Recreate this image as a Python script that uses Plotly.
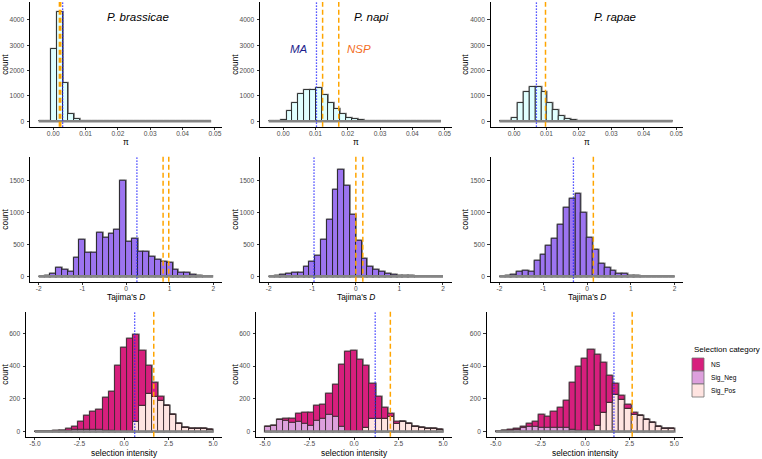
import plotly.graph_objects as go

W, H = 762, 459
FONT = "Liberation Sans"

SPECIES = ["P. brassicae", "P. napi", "P. rapae"]

# ---------- Row 1: nucleotide diversity (pi) ----------
PI_START, PI_WIDTH = -0.0045, 0.00184
PI_TICKS = [0.0, 0.01, 0.02, 0.03, 0.04, 0.05]
PI_TICKTEXT = ["0.00", "0.01", "0.02", "0.03", "0.04", "0.05"]
pi_brassicae = [0, 0, 2850, 4330, 1490, 300, 80, 20, 9, 5, 3, 2, 1, 1, 0,
                0, 0, 0, 0, 0, 0, 0, 0, 0, 0, 0, 0, 0, 0]
pi_napi = [0, 0, 50, 420, 730, 1070, 1220, 1250, 1300, 1020, 720, 470, 270, 130, 80,
           40, 15, 10, 5, 3, 2, 1, 0, 0, 0, 0, 0, 0, 0]
pi_rapae = [0, 0, 110, 740, 1170, 1340, 1350, 1140, 740, 430, 200, 90, 40, 12, 5,
            2, 1, 0, 0, 0, 0, 0, 0, 0, 0, 0, 0, 0, 0]
pi_ma = [0.0029, 0.0103, 0.0069]
pi_nsp = [[0.0019, 0.0023], [0.0122, 0.0172], [0.0097]]

# ---------- Row 2: Tajima's D ----------
TAJ_START, TAJ_WIDTH = -2.0, 4.0 / 30
TAJ_TICKS = [-2, -1, 0, 1, 2]
TAJ_TICKTEXT = ["-2", "-1", "0", "1", "2"]
taj_brassicae = [0, 15, 40, 140, 105, 70, 290, 575, 365, 370, 685, 605, 675, 740, 1495,
                 545, 585, 385, 380, 310, 255, 235, 210, 110, 60, 55, 20, 5, 0, 0]
taj_napi = [0, 5, 20, 40, 55, 55, 150, 235, 330, 570, 885, 1355, 1675, 1420, 975,
            555, 270, 150, 100, 65, 40, 20, 10, 5, 3, 0, 0, 0, 0, 0]
taj_rapae = [0, 10, 25, 70, 90, 75, 250, 335, 475, 590, 815, 1085, 1220, 1305, 995,
             605, 415, 200, 140, 85, 45, 35, 10, 5, 0, 0, 0, 0, 0, 0]
taj_ma = [0.25, -0.96, -0.31]
taj_nsp = [[0.85, 0.98], [0.0, 0.16], [0.145]]

# ---------- Row 3: selection intensity ----------
SEL_START, SEL_WIDTH = -5.0, 10.0 / 29
SEL_TICKS = [-5, -2.5, 0, 2.5, 5]
SEL_TICKTEXT = ["-5.0", "-2.5", "0.0", "2.5", "5.0"]
CATEGORIES = ["NS", "Sig_Neg", "Sig_Pos"]
brassicae_ns = [0, 0, 0, 3, 3, 12, 22, 47, 84, 106, 122, 199, 241, 405, 509,
                564, 529, 335, 173, 91, 25, 0, 0, 0, 0, 0, 0, 0, 0]
brassicae_neg = [0, 0, 0, 0, 2, 3, 8, 10, 12, 12, 10, 6, 3, 0, 0,
                 0, 0, 0, 0, 0, 0, 0, 0, 0, 0, 0, 0, 0, 0]
brassicae_pos = [0, 0, 0, 0, 0, 0, 0, 0, 0, 0, 0, 0, 0, 0, 0,
                 0, 61, 159, 228, 210, 189, 159, 102, 47, 26, 16, 16, 16, 8]
napi_ns = [0, 0, 0, 7, 23, 50, 70, 80, 90, 87, 130, 195, 380, 485, 493,
           440, 380, 210, 130, 70, 20, 12, 0, 0, 0, 0, 0, 0, 0]
napi_neg = [28, 35, 70, 68, 55, 60, 45, 35, 65, 75, 100, 90, 30, 0, 0,
            0, 0, 0, 0, 0, 0, 0, 0, 0, 0, 0, 0, 0, 0]
napi_pos = [0, 0, 0, 0, 0, 0, 0, 0, 0, 0, 0, 0, 0, 0, 0,
            0, 25, 80, 80, 75, 90, 50, 58, 50, 30, 20, 15, 15, 10]
rapae_ns = [0, 0, 2, 3, 10, 17, 30, 75, 67, 93, 119, 170, 292, 393, 447,
            493, 437, 311, 167, 71, 21, 23, 12, 0, 0, 0, 0, 0, 0]
rapae_neg = [0, 3, 6, 12, 20, 28, 30, 25, 25, 25, 26, 20, 8, 2, 0,
             0, 0, 0, 0, 0, 0, 0, 0, 0, 0, 0, 0, 0, 0]
rapae_pos = [0, 0, 0, 0, 0, 0, 0, 0, 0, 0, 0, 0, 0, 0, 0,
             5, 35, 112, 173, 224, 197, 140, 100, 96, 71, 51, 31, 16, 16]
sel_ma = [0.60, 1.19, 1.62]
sel_nsp = [[1.67], [2.04], [2.64]]

# ---------- styling ----------
PI_FILL = "#E0FFFF"
TAJ_FILL = "#9C74F0"
CAT_COLORS = {"NS": "#D71F7D", "Sig_Neg": "#DDA0DD", "Sig_Pos": "#FFE4E1"}
EDGE = "#1f1f1f"
HALO = "rgba(110,110,110,0.75)"
BASE_GREY = "#858585"
TICK_COL = "#4D4D4D"
TICK_SIZE = 6.6
TITLE_SIZE = 8.4

# panel geometry in pixels: (x0, x1) per column per row, (y_top, y_bottom) per row
COLS = [[(30, 222), (260, 451.7), (490.7, 683.3)],
        [(30, 222), (260, 451.7), (490.7, 683.3)],
        [(26, 222), (256, 452), (486.7, 683.3)]]
ROWS = [(2, 126.7), (156.7, 281.7), (311.7, 436.7)]
XTITLE_Y = [141.5, 297, 452.5]
YTITLE_X = [5.5, 235.5, 465.5]

ROW_SPEC = [
    dict(start=PI_START, width=PI_WIDTH, xr=[-0.0072, 0.0522], yr=[-215, 4706],
         xt=PI_TICKS, xtt=PI_TICKTEXT, yt=[0, 1000, 2000, 3000, 4000],
         title="π", ma=pi_ma, nsp=pi_nsp),
    dict(start=TAJ_START, width=TAJ_WIDTH, xr=[-2.2, 2.2], yr=[-85, 1880],
         xt=TAJ_TICKS, xtt=TAJ_TICKTEXT, yt=[0, 500, 1000, 1500],
         title="Tajima's <i>D</i>", ma=taj_ma, nsp=taj_nsp),
    dict(start=SEL_START, width=SEL_WIDTH, xr=[-5.5, 5.5], yr=[-32, 732],
         xt=SEL_TICKS, xtt=SEL_TICKTEXT, yt=[0, 200, 400, 600],
         title="selection intensity", ma=sel_ma, nsp=sel_nsp),
]

row1 = [pi_brassicae, pi_napi, pi_rapae]
row2 = [taj_brassicae, taj_napi, taj_rapae]
row3 = [(brassicae_ns, brassicae_neg, brassicae_pos),
        (napi_ns, napi_neg, napi_pos),
        (rapae_ns, rapae_neg, rapae_pos)]


def centers(start, width, n):
    return [start + (i + 0.5) * width for i in range(n)]


fig = go.Figure()
layout = {}
shapes = []
annotations = []

for r in range(3):
    spec = ROW_SPEC[r]
    y0px, y1px = ROWS[r]
    for c in range(3):
        p = r * 3 + c + 1
        xa = "x" if p == 1 else f"x{p}"
        ya = "y" if p == 1 else f"y{p}"
        x0px, x1px = COLS[r][c]
        layout["xaxis" if p == 1 else f"xaxis{p}"] = dict(
            domain=[x0px / W, x1px / W], anchor=ya, range=spec["xr"],
            tickvals=spec["xt"], ticktext=spec["xtt"],
            showline=True, linecolor="black", linewidth=1,
            ticks="outside", ticklen=2.5, tickcolor="#333333", tickwidth=0.8,
            ticklabelstandoff=-2,
            tickfont=dict(size=TICK_SIZE, color=TICK_COL, family=FONT),
            showgrid=False, zeroline=False,
        )
        layout["yaxis" if p == 1 else f"yaxis{p}"] = dict(
            domain=[1 - y1px / H, 1 - y0px / H], anchor=xa, range=spec["yr"],
            tickvals=spec["yt"],
            showline=True, linecolor="black", linewidth=1,
            ticks="outside", ticklen=2.5, tickcolor="#333333", tickwidth=0.8,
            ticklabelstandoff=1,
            tickfont=dict(size=TICK_SIZE, color=TICK_COL, family=FONT),
            showgrid=False, zeroline=False,
        )
        # axis titles
        annotations.append(dict(text=spec["title"], x=(x0px + x1px) / 2 / W,
                                y=1 - XTITLE_Y[r] / H, xref="paper", yref="paper",
                                xanchor="center", yanchor="middle", showarrow=False,
                                font=dict(size=TITLE_SIZE, color="black", family=FONT)))
        annotations.append(dict(text="count", x=YTITLE_X[c] / W,
                                y=1 - (y0px + y1px) / 2 / H, xref="paper", yref="paper",
                                xanchor="center", yanchor="middle", showarrow=False,
                                textangle=-90,
                                font=dict(size=TITLE_SIZE, color="black", family=FONT)))

        n = len(row1[c]) if r == 0 else (len(row2[c]) if r == 1 else len(row3[c][0]))
        xs = centers(spec["start"], spec["width"], n)
        # grey base outline spanning all bins
        fig.add_trace(go.Scatter(
            x=[spec["start"], spec["start"] + n * spec["width"]], y=[0, 0],
            mode="lines", line=dict(color=BASE_GREY, width=2.6),
            xaxis=xa, yaxis=ya, showlegend=False, hoverinfo="skip"))

        if r < 2:
            vals = row1[c] if r == 0 else row2[c]
            fill = PI_FILL if r == 0 else TAJ_FILL
            fig.add_trace(go.Bar(x=xs, y=vals, width=spec["width"],
                                 marker=dict(color=fill, line=dict(color=HALO, width=2.2)),
                                 xaxis=xa, yaxis=ya, showlegend=False))
            fig.add_trace(go.Bar(x=xs, y=vals, width=spec["width"],
                                 marker=dict(color=fill, line=dict(color=EDGE, width=0.9)),
                                 xaxis=xa, yaxis=ya, showlegend=False))
        else:
            ns, neg, pos = row3[c]
            total = [a + b + d for a, b, d in zip(ns, neg, pos)]
            fig.add_trace(go.Bar(x=xs, y=total, width=spec["width"],
                                 marker=dict(color="rgba(0,0,0,0)", line=dict(color=HALO, width=2.2)),
                                 xaxis=xa, yaxis=ya, showlegend=False))
            base_neg = pos
            base_ns = [a + b for a, b in zip(pos, neg)]
            for name, vals, base in [("Sig_Pos", pos, None),
                                     ("Sig_Neg", neg, base_neg),
                                     ("NS", ns, base_ns)]:
                fig.add_trace(go.Bar(
                    x=xs, y=vals, base=base, width=spec["width"], name=name,
                    marker=dict(color=CAT_COLORS[name], line=dict(color="#3a2a30", width=0.9)),
                    xaxis=xa, yaxis=ya, legendgroup=name, showlegend=False))

        # vertical reference lines
        shapes.append(dict(type="line", xref=xa, yref=f"{ya} domain",
                           x0=spec["ma"][c], x1=spec["ma"][c], y0=0, y1=1,
                           line=dict(color="#2020FF", width=1.3, dash="1.3px,1.7px")))
        for v in spec["nsp"][c]:
            shapes.append(dict(type="line", xref=xa, yref=f"{ya} domain",
                               x0=v, x1=v, y0=0, y1=1,
                               line=dict(color="#FFA500", width=1.5, dash="5px,3px")))

# species labels and MA / NSP labels
SPECIES_POS = [(0.0262, 4118), (0.0274, 4118), (0.0312, 4118)]
for c, name in enumerate(SPECIES):
    xa = "x" if c == 0 else f"x{c + 1}"
    ya = "y" if c == 0 else f"y{c + 1}"
    annotations.append(dict(text=f"<i>{name}</i>", x=SPECIES_POS[c][0], y=SPECIES_POS[c][1],
                            xref=xa, yref=ya, showarrow=False,
                            font=dict(size=11.5, color="black", family=FONT)))
annotations.append(dict(text="<i>MA</i>", x=0.0049, y=2863, xref="x2", yref="y2",
                        showarrow=False, font=dict(size=11.5, color="#1E1E8C", family=FONT)))
annotations.append(dict(text="<i>NSP</i>", x=0.0234, y=2863, xref="x2", yref="y2",
                        showarrow=False, font=dict(size=11.5, color="#F36D1E", family=FONT)))

# legend (ggplot-style stacked keys)
LEG_X0, LEG_KEY_W, LEG_KEY_H, LEG_TOP = 692, 12, 13, 358
annotations.append(dict(text="Selection category", x=LEG_X0 / W, y=1 - 349 / H,
                        xref="paper", yref="paper", xanchor="left", yanchor="middle",
                        showarrow=False, font=dict(size=8.0, color="black", family=FONT)))
for i, name in enumerate(CATEGORIES):
    ty = LEG_TOP + i * LEG_KEY_H
    shapes.append(dict(type="rect", xref="paper", yref="paper",
                       x0=LEG_X0 / W, x1=(LEG_X0 + LEG_KEY_W) / W,
                       y0=1 - (ty + LEG_KEY_H) / H, y1=1 - ty / H,
                       fillcolor=CAT_COLORS[name], line=dict(color="#6e6e6e", width=0.8)))
    annotations.append(dict(text=name, x=(LEG_X0 + LEG_KEY_W + 4.5) / W,
                            y=1 - (ty + LEG_KEY_H / 2) / H, xref="paper", yref="paper",
                            xanchor="left", yanchor="middle", showarrow=False,
                            font=dict(size=6.6, color="black", family=FONT)))

fig.update_layout(
    width=W, height=H,
    margin=dict(l=0, r=0, t=0, b=0),
    paper_bgcolor="white", plot_bgcolor="white",
    barmode="overlay", bargap=0,
    font=dict(family=FONT),
    shapes=shapes, annotations=annotations,
    showlegend=False,
    **layout,
)

fig.write_html("out.html", config={"displayModeBar": False},
               post_script="document.body.style.margin='0px';")
